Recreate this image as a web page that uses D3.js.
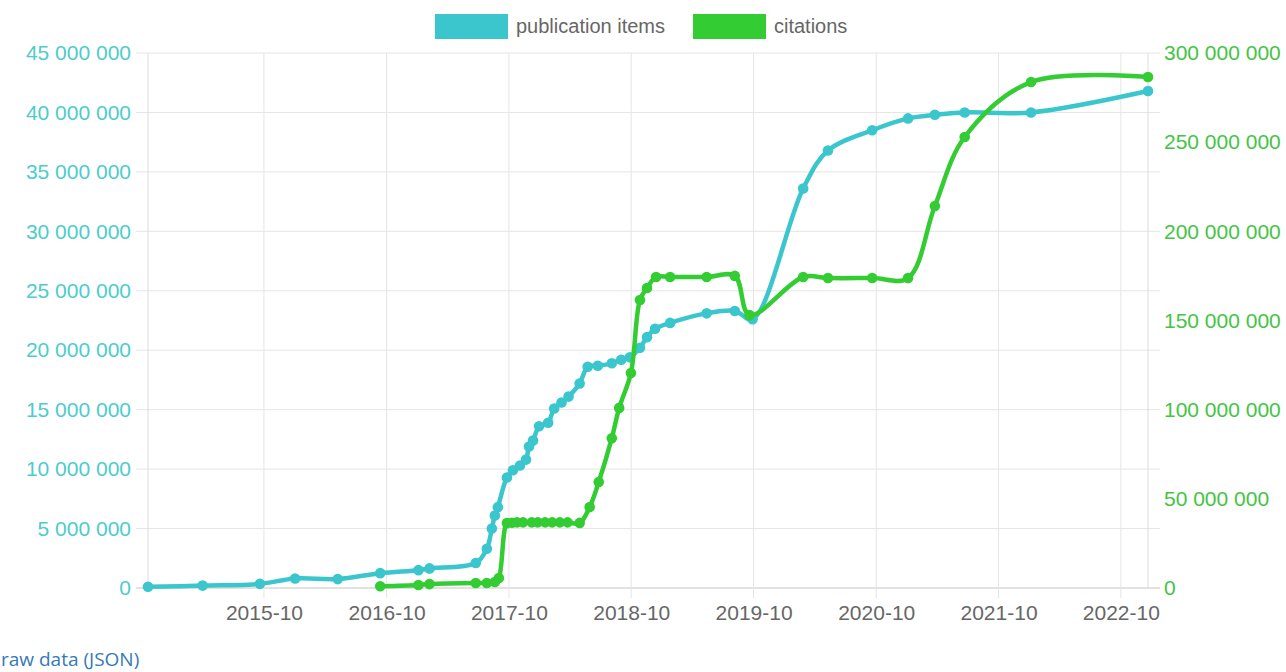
<!DOCTYPE html>
<html>
<head>
<meta charset="utf-8">
<script src="https://cdn.jsdelivr.net/npm/d3@7/dist/d3.min.js"></script>
<style>
  body { margin: 0; background: #ffffff; overflow: hidden; }
  #raw_link {
    position: absolute; left: 1px; top: 646px;
    font-family: "Open Sans", sans-serif; font-size: 19px;
    color: #337ab7; text-decoration: none;
  }
</style>
</head>
<body>
<div id="main_div"></div>
<a id="raw_link" href="#">raw data (JSON)</a>
<script>
var SVG_WIDTH = 1286;
var SVG_HEIGHT = 640;

var PLOT_LEFT = 148;
var PLOT_RIGHT = 1148;
var PLOT_TOP = 53;
var PLOT_BOTTOM = 588;

var PUB_COLOR = "#3ac6cc";
var CIT_COLOR = "#33cc33";
var GRID_COLOR = "#e5e5e5";
var FONT = "'Liberation Sans', Arial, sans-serif";

// ---- data ----
var series_names = ["publication items", "citations"];

var x_tick_labels = ["2015-10", "2016-10", "2017-10", "2018-10", "2019-10", "2020-10", "2021-10", "2022-10"];
var left_ticks = [0, 5000000, 10000000, 15000000, 20000000, 25000000, 30000000, 35000000, 40000000, 45000000];
var right_ticks = [0, 50000000, 100000000, 150000000, 200000000, 250000000, 300000000];

var pub_dates = ["2014-10-20", "2015-04-01", "2015-09-19", "2016-01-02", "2016-05-08", "2016-09-12",
  "2017-01-04", "2017-02-06", "2017-06-24", "2017-07-27", "2017-08-11", "2017-08-20", "2017-08-29",
  "2017-09-25", "2017-10-13", "2017-11-03", "2017-11-21", "2017-11-30", "2017-12-12", "2017-12-30",
  "2018-01-26", "2018-02-13", "2018-03-07", "2018-03-28", "2018-04-30", "2018-05-24", "2018-06-23",
  "2018-08-04", "2018-09-01", "2018-09-27", "2018-10-27", "2018-11-17", "2018-12-11", "2019-01-25",
  "2019-05-14", "2019-08-06", "2019-09-28", "2020-02-26", "2020-05-10", "2020-09-19", "2021-01-04",
  "2021-03-25", "2021-06-22", "2022-01-06", "2022-12-21"];
var pub_values = [100000, 200000, 350000, 800000, 750000, 1250000,
  1500000, 1650000, 2100000, 3300000, 5000000, 6100000, 6800000,
  9300000, 9900000, 10300000, 10800000, 11900000, 12400000, 13600000,
  13900000, 15100000, 15600000, 16100000, 17200000, 18600000, 18700000,
  18900000, 19200000, 19400000, 20200000, 21100000, 21800000, 22300000,
  23100000, 23300000, 22600000, 33600000, 36800000, 38500000, 39500000,
  39800000, 40000000, 40000000, 41800000];

var cit_dates = ["2016-09-12", "2017-01-04", "2017-02-06", "2017-06-24", "2017-07-27", "2017-08-20",
  "2017-09-01", "2017-09-25", "2017-10-10", "2017-10-25", "2017-11-12", "2017-12-08", "2017-12-26",
  "2018-01-17", "2018-02-07", "2018-03-02", "2018-03-25", "2018-04-30", "2018-05-30", "2018-06-26",
  "2018-08-04", "2018-08-26", "2018-09-30", "2018-10-27", "2018-11-17", "2018-12-14", "2019-01-25",
  "2019-05-14", "2019-08-06", "2019-09-19", "2020-02-26", "2020-05-10", "2020-09-19", "2021-01-04",
  "2021-03-25", "2021-06-22", "2022-01-06", "2022-12-21"];
var cit_values = [1000000, 1700000, 2200000, 2800000, 2800000, 3400000,
  5600000, 36400000, 36600000, 36800000, 36800000, 36800000, 36800000,
  36800000, 36800000, 36800000, 36800000, 36500000, 45400000, 59400000,
  84000000, 101000000, 120600000, 161500000, 168200000, 174400000, 174400000,
  174400000, 175000000, 153000000, 174400000, 173800000, 173800000, 173800000,
  214200000, 252900000, 283700000, 286500000];


var parseDay = d3.timeParse("%Y-%m-%d");
var parseMonth = d3.timeParse("%Y-%m");
var fmt = d3.formatLocale({decimal: ".", thousands: " ", grouping: [3], currency: ["", ""]}).format(",d");


function makeSeries(dates, values) {
  return dates.map(function(d, i) { return {date: parseDay(d), value: values[i]}; });
}


function drawGrid(svg, x, yLeft) {
  var grid = svg.append("g").attr("class", "grid");

  // horizontal lines, incl. the small tick marks on both sides
  grid.selectAll(".hline").data(left_ticks).enter()
    .append("line")
      .attr("x1", PLOT_LEFT - 12)
      .attr("x2", PLOT_RIGHT + 12)
      .attr("y1", function(d) { return yLeft(d); })
      .attr("y2", function(d) { return yLeft(d); })
      .style("stroke", function(d) { return d === 0 ? "#c4c4c4" : GRID_COLOR; })
      .style("stroke-width", 1);

  // vertical lines at the yearly ticks
  grid.selectAll(".vline").data(x_tick_labels).enter()
    .append("line")
      .attr("x1", function(d) { return x(parseMonth(d)); })
      .attr("x2", function(d) { return x(parseMonth(d)); })
      .attr("y1", PLOT_TOP)
      .attr("y2", PLOT_BOTTOM + 10)
      .style("stroke", GRID_COLOR);

  // chart area borders left / right
  grid.selectAll(".edge").data([PLOT_LEFT, PLOT_RIGHT]).enter()
    .append("line")
      .attr("x1", function(d) { return d; })
      .attr("x2", function(d) { return d; })
      .attr("y1", PLOT_TOP)
      .attr("y2", PLOT_BOTTOM)
      .style("stroke", "#dcdcdc");
}


function drawAxes(svg, x, yLeft, yRight) {
  var leftAxis = svg.append("g")
      .attr("transform", "translate(" + PLOT_LEFT + ",0)")
      .call(d3.axisLeft(yLeft).tickValues(left_ticks).tickSize(0).tickPadding(17).tickFormat(fmt));
  leftAxis.selectAll("text").style("fill", "#4ccccc");

  var rightAxis = svg.append("g")
      .attr("transform", "translate(" + PLOT_RIGHT + ",0)")
      .call(d3.axisRight(yRight).tickValues(right_ticks).tickSize(0).tickPadding(16).tickFormat(fmt));
  rightAxis.selectAll("text").style("fill", "#44c444");

  var bottomAxis = svg.append("g")
      .attr("transform", "translate(0," + PLOT_BOTTOM + ")")
      .call(d3.axisBottom(x).tickValues(x_tick_labels.map(parseMonth)).tickSize(0).tickPadding(17)
              .tickFormat(d3.timeFormat("%Y-%m")));
  bottomAxis.selectAll("text").style("fill", "#666666");

  svg.selectAll(".domain").remove();
  svg.selectAll(".tick text")
      .style("font-family", FONT)
      .style("font-size", "21px");
}


function drawSeries(svg, x, y, data, color) {
  var line = d3.line()
      .x(function(d) { return x(d.date); })
      .y(function(d) { return y(d.value); })
      .curve(d3.curveCatmullRom.alpha(0.5));

  var g = svg.append("g");
  g.append("path")
      .datum(data)
      .attr("d", line)
      .style("fill", "none")
      .style("stroke", color)
      .style("stroke-width", 4.5)
      .style("stroke-linejoin", "round");

  g.selectAll("circle").data(data).enter()
    .append("circle")
      .attr("cx", function(d) { return x(d.date); })
      .attr("cy", function(d) { return y(d.value); })
      .attr("r", 5.3)
      .style("fill", color);
}


function drawLegend(svg) {
  var colors = [PUB_COLOR, CIT_COLOR];
  var box_x = [435, 693];

  var items = svg.append("g").selectAll("g").data(series_names).enter()
    .append("g")
      .attr("transform", function(d, i) { return "translate(" + box_x[i] + ",14)"; });

  items.append("rect")
      .attr("width", 73)
      .attr("height", 25)
      .style("fill", function(d, i) { return colors[i]; });

  items.append("text")
      .attr("x", 81)
      .attr("y", 19)
      .text(function(d) { return d; })
      .style("font-family", FONT)
      .style("font-size", "20px")
      .style("fill", "#666666");
}


function initialize() {
  var pub = makeSeries(pub_dates, pub_values);
  var cit = makeSeries(cit_dates, cit_values);

  var svg = d3.select("#main_div").append("svg")
      .attr("width", SVG_WIDTH)
      .attr("height", SVG_HEIGHT);

  var x = d3.scaleTime()
      .domain(d3.extent(pub.concat(cit), function(d) { return d.date; }))
      .range([PLOT_LEFT, PLOT_RIGHT]);
  var yLeft = d3.scaleLinear().domain([0, 45000000]).range([PLOT_BOTTOM, PLOT_TOP]);
  var yRight = d3.scaleLinear().domain([0, 300000000]).range([PLOT_BOTTOM, PLOT_TOP]);

  drawGrid(svg, x, yLeft);
  drawAxes(svg, x, yLeft, yRight);
  drawSeries(svg, x, yLeft, pub, PUB_COLOR);
  drawSeries(svg, x, yRight, cit, CIT_COLOR);
  drawLegend(svg);
}

initialize();
</script>
</body>
</html>
